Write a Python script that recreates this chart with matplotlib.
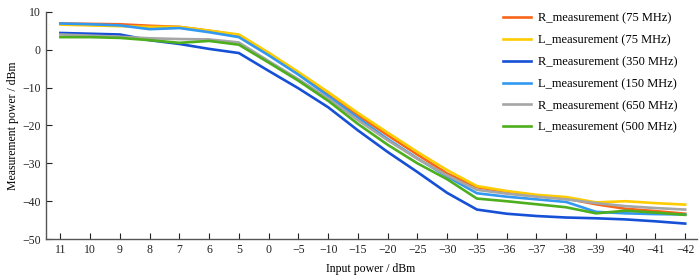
import matplotlib
matplotlib.use("Agg")
import matplotlib.pyplot as plt

plt.rcParams['font.family'] = ['Liberation Serif', 'DejaVu Serif']
plt.rcParams['axes.unicode_minus'] = True

x_labels = ['11', '10', '9', '8', '7', '6', '5', '0', '−5', '−10', '−15', '−20', '−25',
            '−30', '−35', '−36', '−37', '−38', '−39', '−40', '−41', '−42']

r75 = [6.9, 6.8, 6.7, 6.3, 6.0, 5.0, 3.8, -1.0, -6.2, -11.8, -17.3, -22.6, -27.7,
       -32.7, -36.3, -37.5, -38.5, -39.3, -40.8, -42.0, -42.6, -43.3]
l75 = [6.6, 6.4, 6.2, 6.0, 6.0, 5.0, 4.0, -0.8, -5.9, -11.2, -16.7, -21.9, -27.0,
       -31.8, -36.0, -37.3, -38.3, -38.9, -40.3, -40.0, -40.5, -40.9]
r350 = [4.4, 4.2, 4.0, 2.5, 1.5, 0.2, -0.9, -5.6, -10.2, -15.2, -21.3, -27.0, -32.3,
        -37.8, -42.2, -43.3, -43.9, -44.3, -44.5, -44.8, -45.3, -45.9]
l150 = [6.9, 6.7, 6.4, 5.4, 5.7, 4.6, 3.3, -1.5, -6.6, -12.2, -18.0, -23.6, -28.7,
        -33.5, -37.9, -38.8, -39.5, -40.2, -42.8, -43.2, -43.4, -43.5]
r650 = [4.0, 3.7, 3.4, 3.0, 2.8, 2.7, 1.9, -3.0, -7.8, -12.9, -18.6, -23.9, -28.8,
        -33.2, -37.0, -38.0, -38.8, -39.5, -40.5, -41.3, -41.8, -42.2]
l500 = [3.3, 3.3, 3.1, 2.5, 1.8, 2.3, 1.3, -3.4, -8.2, -13.5, -19.6, -25.1, -30.0,
        -34.2, -39.3, -40.0, -40.8, -41.6, -43.2, -42.5, -43.0, -43.6]

series_names = ['R_measurement (75 MHz)', 'L_measurement (75 MHz)', 'R_measurement (350 MHz)',
                'L_measurement (150 MHz)', 'R_measurement (650 MHz)', 'L_measurement (500 MHz)']
series_vals = [r75, l75, r350, l150, r650, l500]
colors = ['#F7651A', '#FFCC00', '#1550D6', '#3399F0', '#A6A6A6', '#4DAE1E']

fig = plt.figure(figsize=(7, 2.8), dpi=100)
ax = fig.add_axes([0.065, 0.146, 0.93, 0.812])

xs = list(range(len(x_labels)))
for name, vals, c in zip(series_names, series_vals, colors):
    ax.plot(xs, vals, color=c, lw=1.9, label=name, solid_joinstyle='round')

ax.set_xlim(-0.5, 21.38)
ax.set_ylim(-50, 10)
ax.set_xticks(xs)
ax.set_xticklabels(x_labels)
ax.set_yticks([10, 0, -10, -20, -30, -40, -50])
ax.tick_params(direction='in', length=4, width=0.8, labelsize=8.5, colors='#222222')
for s in ['top', 'right']:
    ax.spines[s].set_visible(False)
for s in ['left', 'bottom']:
    ax.spines[s].set_color('#555555')
    ax.spines[s].set_linewidth(1.0)

ax.set_xlabel('Input power / dBm', fontsize=8.5, labelpad=5)
ax.set_ylabel('Measurement power / dBm', fontsize=8.5, labelpad=2)

fig.legend(loc='upper left', bbox_to_anchor=(0.719, 0.956), frameon=False, fontsize=9,
           handlelength=2.2, handletextpad=0.55, labelspacing=0.79, borderpad=0,
           borderaxespad=0)

fig.savefig('out.png', dpi=100)
